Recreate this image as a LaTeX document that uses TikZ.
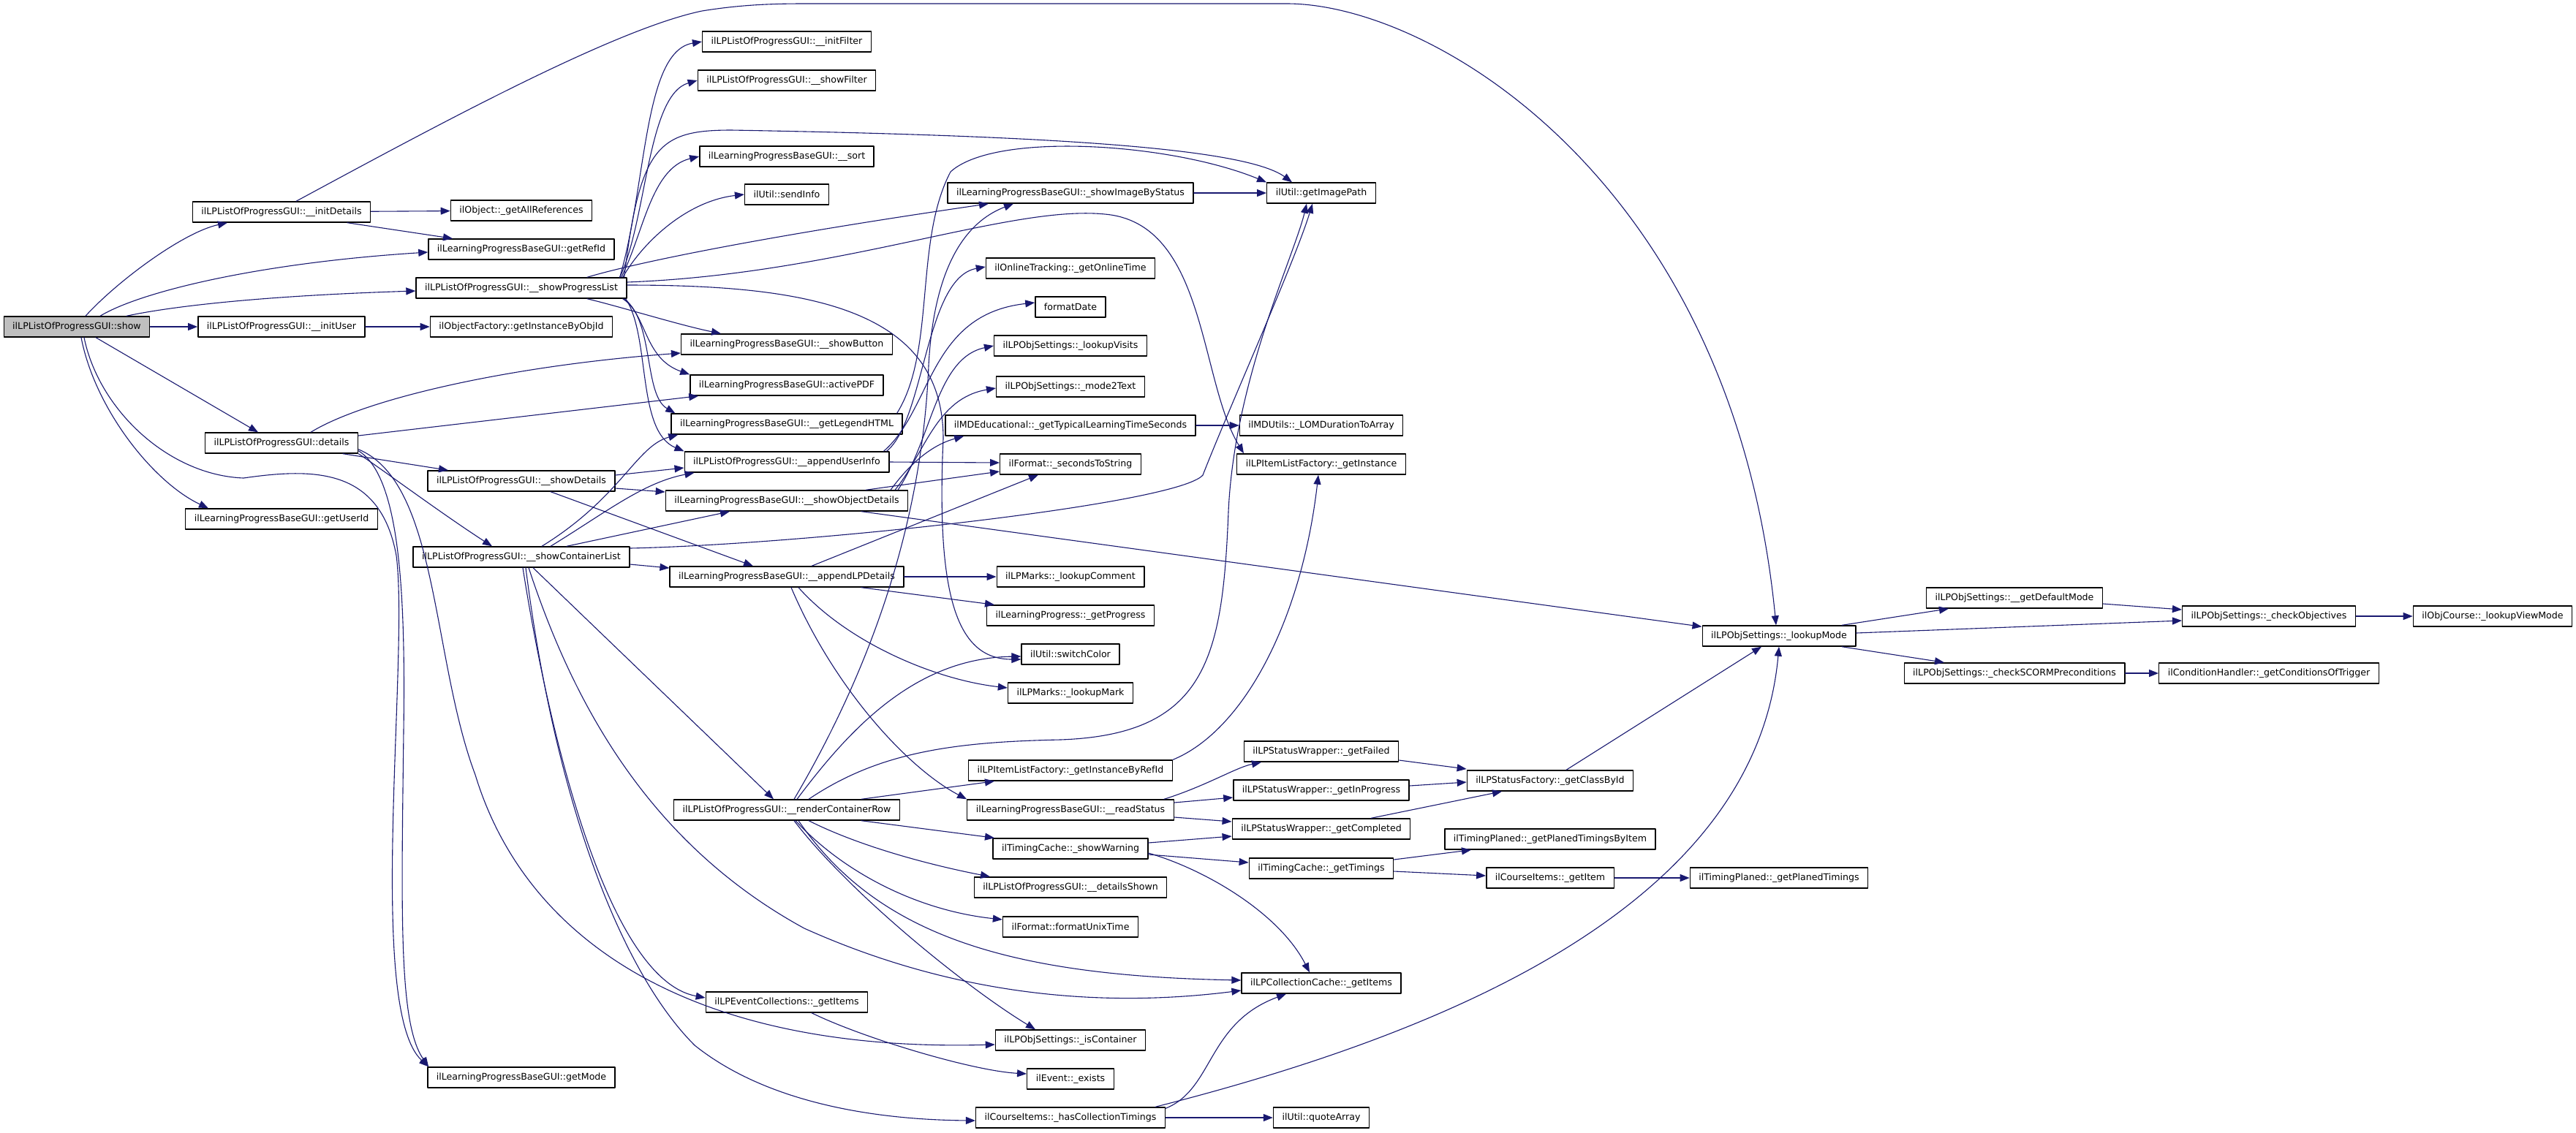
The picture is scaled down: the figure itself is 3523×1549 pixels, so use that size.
\documentclass[tikz,border=0pt]{standalone}
\usepackage{fontspec}
\setmainfont{DejaVu Sans}
\usetikzlibrary{arrows.meta}
\definecolor{edgeblue}{HTML}{191970}
\definecolor{showgray}{HTML}{BFBFBF}
\begin{document}
\begin{tikzpicture}[x=0.5pt,y=-0.5pt,line cap=round,line join=round,
		fn/.style={draw=black,fill=white,line width=0.7pt,minimum height=14pt,inner xsep=6pt,inner ysep=0pt,font=\fontsize{6.3}{7.5}\selectfont},
		fcall/.style={draw=edgeblue,line width=0.55pt,-{Triangle[length=6.5pt,width=5pt]}}]
		\useasboundingbox (0,0) rectangle (3523,1549);
		\node[fn,fill=showgray] (show) at (105,447) {ilLPListOfProgressGUI::show};
		\foreach \n/\y/\t in {initDetails/290/{ilLPListOfProgressGUI::\_\_initDetails}, initUser/447/{ilLPListOfProgressGUI::\_\_initUser}, details/606/{ilLPListOfProgressGUI::details}, getUserId/710/{ilLearningProgressBaseGUI::getUserId}}
			\node[fn] (\n) at (385,\y) {\t};
		\foreach \n/\y/\t in {getAllRefs/288/{ilObject::\_getAllReferences}, getRefId/341/{ilLearningProgressBaseGUI::getRefId}, showPL/394/{ilLPListOfProgressGUI::\_\_showProgressList}, byObjId/447/{ilObjectFactory::getInstanceByObjId}, showDet/658/{ilLPListOfProgressGUI::\_\_showDetails}, showCL/762/{ilLPListOfProgressGUI::\_\_showContainerList}, getMode/1474/{ilLearningProgressBaseGUI::getMode}}
			\node[fn] (\n) at (713,\y) {\t};
		\foreach \n/\y/\t in {initFilter/57/{ilLPListOfProgressGUI::\_\_initFilter}, showFilter/110/{ilLPListOfProgressGUI::\_\_showFilter}, sortF/214/{ilLearningProgressBaseGUI::\_\_sort}, sendInfo/266/{ilUtil::sendInfo}, showButton/471/{ilLearningProgressBaseGUI::\_\_showButton}, activePDF/527/{ilLearningProgressBaseGUI::activePDF}, legend/580/{ilLearningProgressBaseGUI::\_\_getLegendHTML}, appUser/632/{ilLPListOfProgressGUI::\_\_appendUserInfo}, showObj/685/{ilLearningProgressBaseGUI::\_\_showObjectDetails}, appLP/789/{ilLearningProgressBaseGUI::\_\_appendLPDetails}, renderRow/1108/{ilLPListOfProgressGUI::\_\_renderContainerRow}, evtItems/1371/{ilLPEventCollections::\_getItems}}
			\node[fn] (\n) at (1076,\y) {\t};
		\foreach \n/\y/\t in {showImg/264/{ilLearningProgressBaseGUI::\_showImageByStatus}, onlineTime/367/{ilOnlineTracking::\_getOnlineTime}, formatDate/420/{formatDate}, lookupVisits/473/{ilLPObjSettings::\_lookupVisits}, mode2Text/529/{ilLPObjSettings::\_mode2Text}, typLT/582/{ilMDEducational::\_getTypicalLearningTimeSeconds}, secToStr/635/{ilFormat::\_secondsToString}, lookupComment/789/{ilLPMarks::\_lookupComment}, getProgress/842/{ilLearningProgress::\_getProgress}, switchColor/895/{ilUtil::switchColor}, lookupMark/948/{ilLPMarks::\_lookupMark}, byRefId/1054/{ilLPItemListFactory::\_getInstanceByRefId}, readStatus/1108/{ilLearningProgressBaseGUI::\_\_readStatus}, showWarning/1161/{ilTimingCache::\_showWarning}, detailsShown/1214/{ilLPListOfProgressGUI::\_\_detailsShown}, unixTime/1268/{ilFormat::formatUnixTime}, isContainer/1423/{ilLPObjSettings::\_isContainer}, evExists/1476/{ilEvent::\_exists}, hasTimings/1529/{ilCourseItems::\_hasCollectionTimings}}
			\node[fn] (\n) at (1464,\y) {\t};
		\foreach \n/\y/\t in {imagePath/264/{ilUtil::getImagePath}, lomDur/582/{ilMDUtils::\_LOMDurationToArray}, itemInst/635/{ilLPItemListFactory::\_getInstance}, getFailed/1028/{ilLPStatusWrapper::\_getFailed}, getInProg/1081/{ilLPStatusWrapper::\_getInProgress}, getCompl/1134/{ilLPStatusWrapper::\_getCompleted}, getTimings/1188/{ilTimingCache::\_getTimings}, collItems/1345/{ilLPCollectionCache::\_getItems}, quoteArray/1529/{ilUtil::quoteArray}}
			\node[fn] (\n) at (1807,\y) {\t};
		\node[fn] (classById) at (2120,1068) {ilLPStatusFactory::\_getClassById};
		\node[fn] (planedByItem) at (2120,1148) {ilTimingPlaned::\_getPlanedTimingsByItem};
		\node[fn] (getItem) at (2120,1201) {ilCourseItems::\_getItem};
		\node[fn] (lookupMode) at (2433,870) {ilLPObjSettings::\_lookupMode};
		\node[fn] (planedTimings) at (2433,1201) {ilTimingPlaned::\_getPlanedTimings};
		\node[fn] (defaultMode) at (2755,818) {ilLPObjSettings::\_\_getDefaultMode};
		\node[fn] (checkScorm) at (2755,921) {ilLPObjSettings::\_checkSCORMPreconditions};
		\node[fn] (checkObj) at (3103,843) {ilLPObjSettings::\_checkObjectives};
		\node[fn] (condTrigger) at (3103,921) {ilConditionHandler::\_getConditionsOfTrigger};
		\node[fn] (viewMode) at (3409,843) {ilObjCourse::\_lookupViewMode};
		% show
		\draw[fcall] ([xshift=6pt]show.north) .. controls (160,385) and (250,318) .. ([xshift=-37pt]initDetails.south);
		\draw[fcall] ([xshift=16pt]show.north) .. controls (190,400) and (350,360) .. ([yshift=-2pt]getRefId.west);
		\draw[fcall] ([xshift=34pt]show.north) .. controls (230,420) and (350,405) .. ([yshift=-2pt]showPL.west);
		\draw[fcall] (show) -- (initUser);
		\draw[fcall] ([xshift=13pt]show.south) -- ([xshift=-16pt]details.north);
		\draw[fcall] ([xshift=3pt]show.south) .. controls (130,560) and (210,660) .. ([xshift=-50pt]getUserId.north);
		\draw[fcall] ([xshift=5pt]show.south) .. controls (135,560) and (230,650) .. (333,654) .. controls (430,640) and (520,640) .. (542,760) .. controls (560,900) and (500,1380) .. ([xshift=1pt]getMode.north west);
		% initDetails, initUser
		\draw[fcall] (initDetails) -- (getAllRefs);
		\draw[fcall] ([xshift=45pt]initDetails.south) -- ([xshift=-47pt]getRefId.north);
		\draw[fcall] ([xshift=10pt]initDetails.north) .. controls (600,170) and (840,40) .. (960,15) .. controls (1010,7) and (1050,5) .. (1100,5) -- (1760,5) .. controls (1960,5) and (2370,250) .. ([xshift=-2pt]lookupMode.north);
		\draw[fcall] (initUser) -- (byObjId);
		% showProgressList
		\draw[fcall] ([xshift=-5pt]showPL.north east) .. controls (885,250) and (880,70) .. (initFilter.west);
		\draw[fcall] ([xshift=-5pt]showPL.north east) .. controls (885,300) and (885,130) .. (showFilter.west);
		\draw[fcall] ([xshift=-4pt]showPL.north east) .. controls (880,320) and (890,230) .. (sortF.west);
		\draw[fcall] ([xshift=-3pt]showPL.north east) .. controls (880,330) and (940,275) .. (sendInfo.west);
		\draw[fcall] ([xshift=45pt]showPL.north) .. controls (850,365) and (1000,330) .. ([xshift=-56pt]showImg.south);
		\draw[fcall] ([xshift=-2pt]showPL.north east) .. controls (875,200) and (900,178) .. (1000,178) .. controls (1400,185) and (1700,200) .. ([xshift=-20pt]imagePath.north);
		\draw[fcall] ([yshift=4pt]showPL.east) .. controls (1150,375) and (1380,280) .. (1511,293) .. controls (1650,305) and (1640,520) .. ([xshift=-53pt]itemInst.north);
		\draw[fcall] ([yshift=2pt]showPL.east) .. controls (1100,390) and (1290,420) .. (1290,600) .. controls (1280,820) and (1310,902) .. ([yshift=-3.5pt]switchColor.west);
		\draw[fcall] ([xshift=45pt]showPL.south) .. controls (850,420) and (930,445) .. ([xshift=-45pt]showButton.north);
		\draw[fcall] ([xshift=-3pt]showPL.south east) .. controls (885,430) and (880,490) .. (activePDF.north west);
		\draw[fcall] ([xshift=-2pt]showPL.south east) .. controls (895,440) and (880,540) .. ([xshift=3pt]legend.north west);
		\draw[fcall] ([xshift=-1pt]showPL.south east) .. controls (890,460) and (870,590) .. (appUser.north west);
		% details
		\draw[fcall] ([xshift=42pt]details.south) -- ([xshift=-50pt]showDet.north);
		\draw[fcall] (details.south east) .. controls (520,640) and (600,700) .. ([xshift=-20pt]showCL.north);
		\draw[fcall] ([yshift=2pt]details.south east) .. controls (545,650) and (555,800) .. (552,1000) .. controls (549,1250) and (545,1400) .. ([xshift=1pt]getMode.north west);
		\draw[fcall] ([yshift=3pt]details.south east) .. controls (600,660) and (590,900) .. (650,1060) .. controls (720,1290) and (950,1440) .. ([yshift=-3pt]isContainer.west);
		\draw[fcall] ([xshift=20pt]details.north) .. controls (500,545) and (700,500) .. ([yshift=-6pt]showButton.west);
		\draw[fcall] ([yshift=5pt]details.east) -- ([xshift=6pt]activePDF.south west);
		% showDetails
		\draw[fcall] ([yshift=4pt]showDet.east) -- ([yshift=-4pt]appUser.west);
		\draw[fcall] ([yshift=-5pt]showDet.east) -- ([yshift=6pt]showObj.west);
		\draw[fcall] ([xshift=20pt]showDet.south) -- ([xshift=-23pt]appLP.north);
		% showContainerList
		\draw[fcall] ([xshift=14pt]showCL.north) .. controls (850,680) and (870,610) .. ([xshift=5pt]legend.south west);
		\draw[fcall] ([xshift=20pt]showCL.north) .. controls (830,700) and (880,660) .. ([xshift=7pt]appUser.south west);
		\draw[fcall] ([xshift=31pt]showCL.north) -- ([xshift=-39pt]showObj.south);
		\draw[fcall] ([yshift=6pt]showCL.east) .. controls (1100,745) and (1610,690) .. (1645,650) .. controls (1680,560) and (1770,360) .. ([xshift=-6pt]imagePath.south);
		\draw[fcall] ([yshift=-5pt]showCL.east) -- ([yshift=6pt]appLP.west);
		\draw[fcall] ([xshift=8pt]showCL.south) -- ([xshift=-9pt]renderRow.north);
		\draw[fcall] ([xshift=5pt]showCL.south) .. controls (780,950) and (880,1150) .. (1100,1270) .. controls (1300,1360) and (1500,1380) .. ([yshift=-5pt]collItems.west);
		\draw[fcall] ([xshift=1pt]showCL.south) .. controls (750,1000) and (830,1340) .. ([yshift=3pt]evtItems.west);
		\draw[fcall] ([xshift=3pt]showCL.south) .. controls (760,1100) and (850,1330) .. (950,1430) .. controls (1050,1510) and (1200,1532) .. ([yshift=-2pt]hasTimings.west);
		% renderContainerRow
		\draw[fcall] ([xshift=5pt]renderRow.north) .. controls (1200,900) and (1262,700) .. (1270,500) .. controls (1278,350) and (1330,300) .. ([xshift=-39pt]showImg.south);
		\draw[fcall] ([xshift=7pt]renderRow.north) .. controls (1160,1000) and (1250,900) .. ([yshift=-1.5pt]switchColor.west);
		\draw[fcall] ([xshift=15pt]renderRow.north) .. controls (1200,1030) and (1300,1015) .. (1450,1012) .. controls (1650,1005) and (1672,900) .. (1680,700) .. controls (1688,520) and (1770,350) .. ([xshift=-10pt]imagePath.south);
		\draw[fcall] ([xshift=51pt]renderRow.north) -- ([xshift=-52pt]byRefId.south);
		\draw[fcall] ([xshift=51pt]renderRow.south) -- ([xshift=-52pt]showWarning.north);
		\draw[fcall] ([xshift=15pt]renderRow.south) .. controls (1180,1160) and (1280,1185) .. ([xshift=-55pt]detailsShown.north);
		\draw[fcall] ([xshift=6pt]renderRow.south) .. controls (1150,1190) and (1250,1245) .. ([yshift=5pt]unixTime.west);
		\draw[fcall] ([xshift=5pt]renderRow.south) .. controls (1160,1220) and (1320,1350) .. ([xshift=-24pt]isContainer.north);
		\draw[fcall] ([xshift=8pt]renderRow.south) .. controls (1200,1280) and (1380,1335) .. ([yshift=2pt]collItems.west);
		% appendLPDetails, showObjectDetails, appendUserInfo, getLegendHTML
		\draw[fcall] ([xshift=17pt]appLP.north) -- ([xshift=-22pt]secToStr.south);
		\draw[fcall] (appLP) -- (lookupComment);
		\draw[fcall] ([xshift=51pt]appLP.south) -- ([xshift=-52pt]getProgress.north);
		\draw[fcall] ([xshift=8pt]appLP.south) .. controls (1160,880) and (1280,930) .. ([yshift=3.5pt]lookupMark.west);
		\draw[fcall] ([xshift=3pt]appLP.south) .. controls (1140,940) and (1240,1050) .. (readStatus.north west);
		\draw[fcall] ([xshift=54pt]showObj.north) -- ([yshift=-5pt]secToStr.west);
		\draw[fcall] ([xshift=71pt]showObj.north) .. controls (1240,640) and (1270,610) .. ([xshift=13pt]typLT.south west);
		\draw[fcall] ([xshift=74pt]showObj.north) .. controls (1265,620) and (1280,545) .. ([yshift=-1pt]mode2Text.west);
		\draw[fcall] ([xshift=76pt]showObj.north) .. controls (1275,600) and (1280,490) .. (lookupVisits.west);
		\draw[fcall] ([xshift=51pt]showObj.south) -- ([yshift=-1pt]lookupMode.north west);
		\draw[fcall] (appUser.east) -- ([yshift=1pt]secToStr.west);
		\draw[fcall] ([xshift=-2pt]appUser.north east) .. controls (1265,575) and (1265,380) .. ([yshift=1pt]onlineTime.west);
		\draw[fcall] ([xshift=-4pt]appUser.north east) .. controls (1275,560) and (1270,430) .. ([yshift=3pt]formatDate.west);
		\draw[fcall] ([xshift=-4pt]legend.north east) .. controls (1280,480) and (1250,330) .. (1300,235) .. controls (1360,180) and (1600,195) .. (imagePath.north west);
		% right part
		\draw[fcall] (showImg) -- (imagePath);
		\draw[fcall] (typLT) -- (lomDur);
		\draw[fcall] (byRefId.north east) .. controls (1700,1000) and (1780,850) .. ([xshift=-2pt]itemInst.south);
		\draw[fcall] ([xshift=-7pt]readStatus.north east) .. controls (1650,1075) and (1690,1050) .. ([xshift=-41pt]getFailed.south);
		\draw[fcall] ([yshift=5pt]readStatus.east) -- ([yshift=-5pt]getInProg.west);
		\draw[fcall] ([yshift=-5pt]readStatus.east) -- ([yshift=5pt]getCompl.west);
		\draw[fcall] ([yshift=4pt]showWarning.east) -- ([yshift=-5pt]getCompl.west);
		\draw[fcall] ([yshift=-4pt]showWarning.east) -- ([yshift=4pt]getTimings.west);
		\draw[fcall] ([yshift=-3pt]showWarning.east) .. controls (1650,1190) and (1750,1250) .. ([xshift=-8pt]collItems.north);
		\draw[fcall] ([yshift=-6pt]getFailed.east) -- ([yshift=8pt]classById.west);
		\draw[fcall] ([yshift=3pt]getInProg.east) -- ([yshift=-1pt]classById.west);
		\draw[fcall] ([xshift=34pt]getCompl.north) -- ([xshift=-33pt]classById.south);
		\draw[fcall] ([xshift=11pt]classById.north) -- ([xshift=-12pt]lookupMode.south);
		\draw[fcall] ([yshift=6pt]getTimings.east) -- ([xshift=-54pt]planedByItem.south);
		\draw[fcall] ([yshift=-2pt]getTimings.east) -- ([yshift=1.5pt]getItem.west);
		\draw[fcall] (getItem) -- (planedTimings);
		\draw[fcall] (hasTimings) -- (quoteArray);
		\draw[fcall] ([yshift=-1pt]hasTimings.north east) .. controls (1660,1490) and (1650,1400) .. ([xshift=-24pt]collItems.south);
		\draw[fcall] ([xshift=58pt]hasTimings.north) .. controls (1950,1420) and (2400,1250) .. (lookupMode.south);
		\draw[fcall] ([xshift=17pt]evtItems.south) .. controls (1180,1420) and (1330,1465) .. ([yshift=3.5pt]evExists.west);
		\draw[fcall] ([xshift=43pt]lookupMode.north) -- ([xshift=-45pt]defaultMode.south);
		\draw[fcall] ([yshift=2pt]lookupMode.east) -- ([yshift=-3pt]checkObj.west);
		\draw[fcall] ([xshift=43pt]lookupMode.south) -- ([xshift=-48pt]checkScorm.north);
		\draw[fcall] ([yshift=-4pt]defaultMode.east) -- ([yshift=4.5pt]checkObj.west);
		\draw[fcall] (checkObj) -- (viewMode);
		\draw[fcall] (checkScorm) -- (condTrigger);
\end{tikzpicture}
\end{document}
